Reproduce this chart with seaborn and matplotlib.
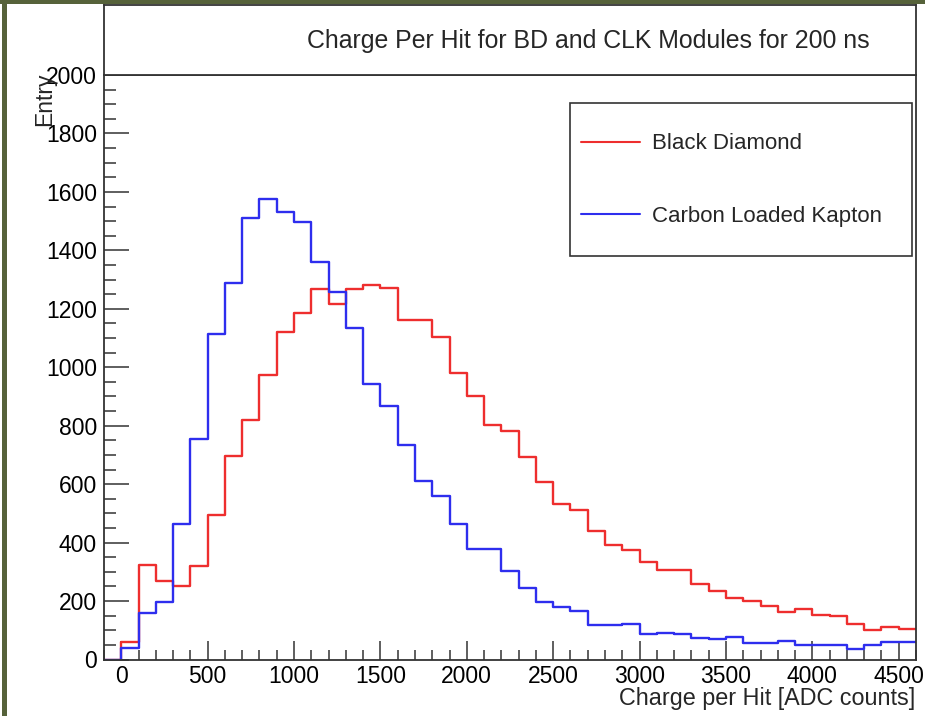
import matplotlib
matplotlib.use("Agg")
import numpy as np
import pandas as pd
import matplotlib.pyplot as plt
import seaborn as sns
from matplotlib.ticker import MultipleLocator
from matplotlib.lines import Line2D
from matplotlib.patches import Rectangle

# ---- data (bin lower edges, width 100 ADC counts) ----
bin_low = list(range(-100, 4600, 100))
black_diamond = [0, 61, 322, 267, 252, 319, 495, 697, 821, 975, 1121,
                 1187, 1267, 1218, 1269, 1280, 1270, 1161, 1161, 1104, 982,
                 903, 804, 781, 693, 607, 532, 511, 439, 391, 374,
                 332, 306, 306, 260, 235, 210, 201, 183, 161, 174,
                 152, 149, 121, 101, 110, 104]
carbon_kapton = [0, 40, 158, 196, 463, 756, 1113, 1287, 1510, 1574, 1532,
                 1497, 1359, 1256, 1135, 944, 869, 733, 612, 559, 463,
                 379, 379, 302, 243, 196, 178, 166, 117, 117, 121,
                 87, 92, 87, 75, 70, 76, 55, 55, 64, 48,
                 48, 48, 35, 48, 61, 61]
series_names = ["Black Diamond", "Carbon Loaded Kapton"]
title_text = "Charge Per Hit for BD and CLK Modules for 200 ns"
x_label = "Charge per Hit [ADC counts]"
y_label = "Entry"

bin_width = 100
centers = np.array(bin_low, dtype=float) + bin_width / 2
df = pd.DataFrame({"center": np.concatenate([centers, centers]),
                   "count": black_diamond + carbon_kapton,
                   "series": [series_names[0]] * len(centers) + [series_names[1]] * len(centers)})

sns.set_style("white")
plt.rcParams["font.family"] = ["Liberation Sans", "DejaVu Sans"]

W, H = 925, 716
fig = plt.figure(figsize=(W / 100, H / 100), dpi=100)
fig.patch.set_facecolor("white")

frame_col = "#333333"
red = "#ee2e2e"
blue = "#2e2eee"
fs = 16.5

L, R, T, B = 104, 916, 75, 659.5
ax = fig.add_axes([L / W, 1 - B / H, (R - L) / W, (B - T) / H])
for name, col in zip(series_names, [red, blue]):
    sub = df[df["series"] == name]
    sns.histplot(data=sub, x="center", weights="count", binwidth=bin_width,
                 binrange=(bin_low[0], bin_low[-1] + bin_width),
                 element="step", fill=False, color=col, linewidth=1.7, ax=ax)
ax.set_xlim(-100, 4600)
ax.set_ylim(0, 2000)
ax.set_xlabel("")
ax.set_ylabel("")
ax.xaxis.set_major_locator(MultipleLocator(500))
ax.xaxis.set_minor_locator(MultipleLocator(100))
ax.yaxis.set_major_locator(MultipleLocator(200))
ax.yaxis.set_minor_locator(MultipleLocator(50))
ax.tick_params(axis="both", which="both", direction="in", colors=frame_col,
               labelcolor="black", labelsize=fs, width=1.1,
               top=False, right=False, left=True, bottom=True)
ax.tick_params(axis="y", which="major", length=18, pad=5)
ax.tick_params(axis="y", which="minor", length=8.5)
ax.tick_params(axis="x", which="major", length=14, pad=4)
ax.tick_params(axis="x", which="minor", length=7)
for s in ax.spines.values():
    s.set_visible(True)
    s.set_color(frame_col)
    s.set_linewidth(1.3)

# title box
tax = fig.add_axes([L / W, 1 - T / H, (R - L) / W, (T - 5) / H])
tax.set_xticks([])
tax.set_yticks([])
for s in tax.spines.values():
    s.set_color(frame_col)
    s.set_linewidth(1.3)
fig.text(588 / W, 1 - 41 / H, title_text, ha="center", va="center", fontsize=17.9)

# axis labels
fig.text(45 / W, 1 - 73 / H, y_label, rotation=90, ha="center", va="top", fontsize=16.5)
fig.text(915 / W, 1 - 698 / H, x_label, ha="right", va="center", fontsize=16.8)

# legend box
fig.patches.append(Rectangle((570 / W, 1 - 256 / H), (912 - 570) / W, (256 - 103) / H,
                             transform=fig.transFigure, facecolor="white",
                             edgecolor=frame_col, linewidth=1.2, zorder=5))
handles = [Line2D([], [], color=red, lw=1.5), Line2D([], [], color=blue, lw=1.5)]
leg = fig.legend(handles, series_names, loc="center left",
                 bbox_to_anchor=(581 / W, 1 - 180 / H), frameon=False,
                 fontsize=16, handlelength=2.65, handletextpad=0.55,
                 labelspacing=2.3, borderpad=0, borderaxespad=0)
leg.set_zorder(6)

# olive outer border
olive = "#56623a"
fig.patches.append(Rectangle((0, 1 - 4 / H), 1, 4 / H, transform=fig.transFigure,
                             facecolor=olive, edgecolor="none", zorder=10))
fig.patches.append(Rectangle((2 / W, 0), 5 / W, 1, transform=fig.transFigure,
                             facecolor=olive, edgecolor="none", zorder=10))

fig.savefig("out.png", dpi=100)
